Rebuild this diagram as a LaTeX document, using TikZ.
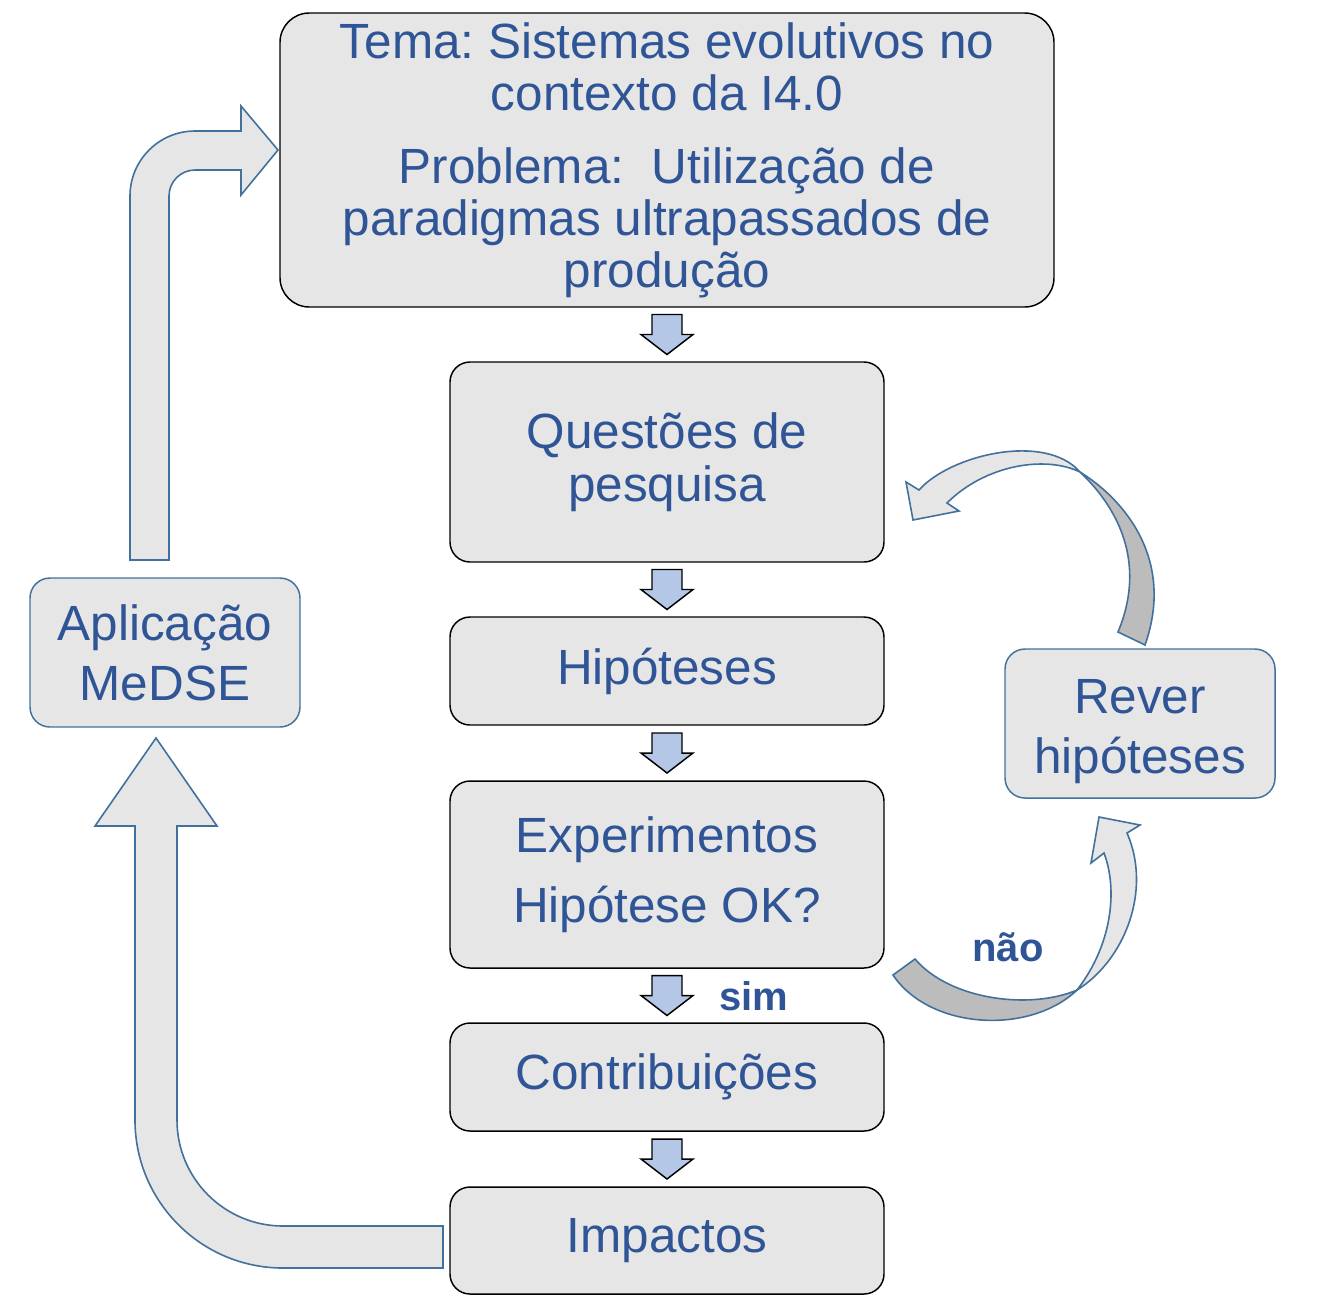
\documentclass[tikz,border=0pt]{standalone}
\usepackage{fontspec}
\setmainfont{Liberation Sans}
\usetikzlibrary{calc}
\frenchspacing

\definecolor{txtblue}{RGB}{47,85,151}
\definecolor{boxgray}{RGB}{231,230,230}
\definecolor{edgeblue}{RGB}{65,113,156}
\definecolor{arrowblue}{RGB}{180,199,231}
\definecolor{backgray}{RGB}{188,188,188}

\tikzset{
  stepbox/.style={draw=black, line width=1.1pt, fill=boxgray, rounded corners=15pt,
    text=txtblue, align=center, inner sep=0pt, minimum width=325.5pt,
    font=\fontsize{37.1}{39.75}\selectfont},
  sidebox/.style={stepbox, draw=edgeblue, minimum width=202.5pt, minimum height=111.75pt,
    font=\fontsize{37.1}{45}\selectfont},
  sidetext/.style={text=txtblue, align=center, inner sep=0pt, font=\fontsize{37.1}{45}\selectfont},
  bigarrow/.style={draw=edgeblue, line width=1.2pt, fill=boxgray},
  backarrow/.style={bigarrow, fill=backgray},
  answer/.style={text=txtblue, inner sep=0pt, font=\bfseries\fontsize{30}{30}\selectfont},
  dnarrow/.pic={
    \draw[line width=1.1pt, fill=arrowblue]
      (-15,-20) -- (15,-20) -- (15,0) -- (26,0) -- (0,20) -- (-26,0) -- (-15,0) -- cycle;
  }
}

\begin{document}
\begin{tikzpicture}[x=0.75pt, y=-0.75pt]

        \useasboundingbox (0,0) rectangle (1334,1297);

        \node[stepbox, minimum width=580.5pt, minimum height=220.5pt, rounded corners=22pt,
            font=\fontsize{37.1}{39}\selectfont] (tema) at (667,160)
            {Tema: Sistemas evolutivos no\\contexto da I4.0\\[15.75pt]Problema:\ \ Utilização de\\paradigmas ultrapassados de\\produção};
        \node[stepbox, minimum height=150pt] (questoes) at (667,462) {Questões de\\pesquisa};
        \node[stepbox, minimum height=81pt] (hipoteses) at (667,671) {Hipóteses};
        \node[stepbox, minimum height=140.25pt] (experimentos) at (667,874.5) {Experimentos\\[13pt]Hipótese OK?};
        \node[stepbox, minimum height=81pt] (contrib) at (667,1077) {Contribuições};
        \node[stepbox, minimum height=80.25pt] (impactos) at (667,1240.5) {Impactos};

        \node[sidebox] (aplicacao) at (165,652.5) {Aplicação\\MeDSE};
        \node[sidebox] (rever) at (1140,723.5) {};
        \node[sidetext] (revertxt) at ($(rever.center)+(0,8)$) {Rever\\hipóteses};

        \foreach \a/\b in {tema/questoes, questoes/hipoteses, hipoteses/experimentos,
                experimentos/contrib, contrib/impactos}
            \pic at ($(\a.south)!0.5!(\b.north)$) {dnarrow};

        \node[answer] (sim) at (754,996) {sim};
        \node[answer] (nao) at (1008,947) {não};

        \draw[bigarrow]
            (130,560) -- (130,196) arc[start angle=180, end angle=270, radius=65]
            -- (241,131) -- (241,106) -- (278,150) -- (241,195) -- (241,170) -- (195,170)
            arc[start angle=270, end angle=180, radius=26] -- (169,560) -- cycle;

        \draw[bigarrow]
            (443,1226) -- (283,1226) arc[start angle=90, end angle=180, radius=106]
            -- (177,826) -- (217,826) -- (156,738) -- (95,826) -- (135,826) -- (135,1120)
            arc[start angle=180, end angle=90, radius=148] -- (443,1268) -- cycle;

        \draw[backarrow]
            (1080,472) .. controls (1125,500) and (1175,560) .. (1145,645) -- (1118,632)
            .. controls (1148,560) and (1115,505) .. (1080,472) -- cycle;
        \draw[bigarrow]
            (919,490) .. controls (950,455) and (1045,432) .. (1080,472)
            .. controls (1045,455) and (985,465) .. (947,503)
            -- (959,511) -- (913,520) -- (906,482) -- cycle;

        \draw[backarrow]
            (893,975) .. controls (930,1030) and (1030,1035) .. (1077,990)
            .. controls (1030,1010) and (950,1000) .. (915,959) -- cycle;
        \draw[bigarrow]
            (1077,990) .. controls (1125,960) and (1152,890) .. (1127,833)
            -- (1140,825) -- (1099,817) -- (1091,863) -- (1104,853)
            .. controls (1118,890) and (1112,945) .. (1077,990) -- cycle;

\end{tikzpicture}
\end{document}
